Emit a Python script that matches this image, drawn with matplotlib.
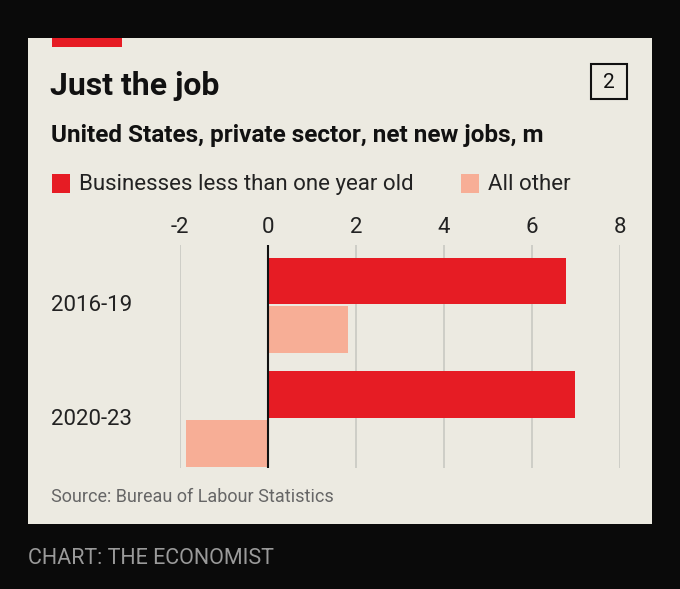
import matplotlib
matplotlib.use("Agg")
import matplotlib.pyplot as plt
from matplotlib.patches import Rectangle
import matplotlib.transforms as mtransforms

plt.rcParams['font.family'] = ['Roboto', 'DejaVu Sans']

periods = ["2016-19", "2020-23"]
young = [6.77, 6.98]
other = [1.82, -1.86]
xticks = [-2, 0, 2, 4, 6, 8]

RED = "#E61C24"
PINK = "#F7AE96"
PANEL = "#ECEAE1"
W, H = 680, 589

fig = plt.figure(figsize=(W / 100, H / 100), dpi=100, facecolor="#0A0A0A")

def fx(px):
    return px / W

def fy(py):
    return 1 - py / H

# panel
fig.patches.append(Rectangle((fx(28), fy(524)), fx(652) - fx(28), fy(38) - fy(524),
                             transform=fig.transFigure, facecolor=PANEL, zorder=-2))
fig.patches.append(Rectangle((fx(52), fy(47)), fx(122) - fx(52), fy(38) - fy(47),
                             transform=fig.transFigure, facecolor=RED, zorder=-1))
fig.patches.append(Rectangle((fx(591), fy(99)), fx(627) - fx(591), fy(64) - fy(99),
                             transform=fig.transFigure, facecolor="none",
                             edgecolor="#111111", lw=1.5, zorder=-1))
fig.text(fx(609), fy(82), "2", fontsize=15, ha="center", va="center", color="#111111")

fig.text(fx(50), fy(86), "Just the job", fontsize=23, fontweight="bold",
         va="center", color="#111111")
fig.text(fx(51), fy(135), "United States, private sector, net new jobs, m",
         fontsize=17.5, fontweight="bold", va="center", color="#111111")

fig.patches.append(Rectangle((fx(52), fy(193)), fx(70) - fx(52), fy(174) - fy(193),
                             transform=fig.transFigure, facecolor=RED, zorder=-1))
fig.text(fx(79), fy(184), "Businesses less than one year old", fontsize=16,
         va="center", color="#222222")
fig.patches.append(Rectangle((fx(461), fy(193)), fx(479) - fx(461), fy(174) - fy(193),
                             transform=fig.transFigure, facecolor=PINK, zorder=-1))
fig.text(fx(488), fy(184), "All other", fontsize=16, va="center", color="#222222")

fig.text(fx(51), fy(497), "Source: Bureau of Labour Statistics", fontsize=13,
         va="center", color="#666666")
fig.text(fx(28), fy(558), "CHART: THE ECONOMIST", fontsize=15.5,
         va="center", color="#9A9A9A")

# plot
ax = fig.add_axes([fx(180), fy(468), fx(620) - fx(180), fy(245) - fy(468)])
ax.set_zorder(3)
ax.set_facecolor("none")
ax.set_xlim(-2, 8)
ax.set_ylim(1.43, -0.53)
for x in xticks:
    ax.axvline(x, color="#C9C9C2", lw=1.2, zorder=0)
ys = range(len(periods))
ax.barh([y - 0.215 for y in ys], young, height=0.41, color=RED, zorder=2)
ax.barh([y + 0.215 for y in ys], other, height=0.41, color=PINK, zorder=2)
ax.axvline(0, color="#111111", lw=1.5, zorder=3)
for s in ax.spines.values():
    s.set_visible(False)
ax.set_yticks([])
ax.set_xticks(xticks)
ax.set_xticklabels([str(t) for t in xticks], fontsize=16, color="#222222")
ax.xaxis.tick_top()
ax.tick_params(axis="x", length=0, pad=5)
trans = mtransforms.blended_transform_factory(fig.transFigure, ax.transData)
for y, p in zip(ys, periods):
    ax.text(fx(51), y, p, transform=trans, fontsize=16, va="center", color="#222222")

fig.savefig("out.png", dpi=100, facecolor=fig.get_facecolor())
